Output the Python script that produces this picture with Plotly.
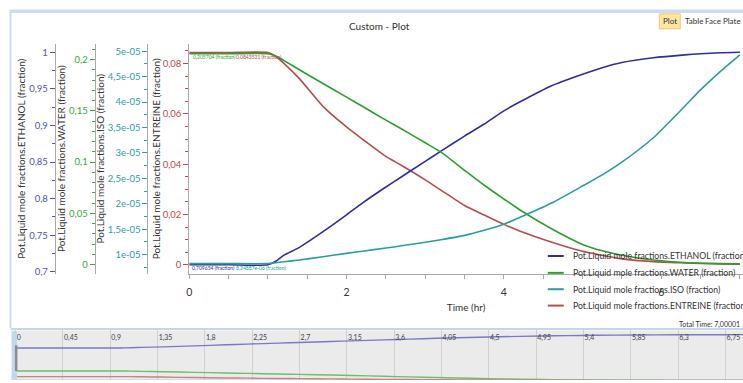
import plotly.graph_objects as go

W, H = 743, 383


def px(x):
    return x / W


def py(y):
    return 1 - y / H


# ---------------- data ----------------
time_hr = [0, 0.5, 1.0, 1.1, 1.2, 1.4, 1.7, 2.0, 2.2, 2.5, 2.7, 3.0, 3.2, 3.5, 3.75,
           4.0, 4.2, 4.6, 5.0, 5.25, 5.5, 5.9, 6.3, 6.5, 6.75, 7.00001]
ethanol = [0.709654, 0.709654, 0.709654, 0.7145, 0.7225, 0.7335, 0.755, 0.778, 0.794,
           0.816, 0.830, 0.851, 0.865, 0.8855, 0.902, 0.920, 0.932, 0.954, 0.970,
           0.979, 0.986, 0.9925, 0.9965, 0.998, 0.9993, 1.0]
water = [0.205704, 0.205704, 0.205704, 0.2035, 0.1992, 0.190, 0.1766, 0.1633, 0.1544,
         0.1409, 0.1323, 0.1188, 0.1097, 0.0920, 0.0774, 0.0640, 0.0535, 0.0352,
         0.0197, 0.0135, 0.0092, 0.0045, 0.0020, 0.0013, 0.0007, 0.0004]
iso = [8.24887e-06, 8.24887e-06, 8.24887e-06, 8.42e-06, 8.6e-06, 8.95e-06, 9.6e-06,
       1.025e-05, 1.068e-05, 1.13e-05, 1.175e-05, 1.245e-05, 1.295e-05, 1.38e-05,
       1.48e-05, 1.60e-05, 1.73e-05, 2.01e-05, 2.35e-05, 2.57e-05, 2.82e-05,
       3.30e-05, 3.92e-05, 4.24e-05, 4.60e-05, 4.93e-05]
entreine = [0.0843531, 0.0843531, 0.0843531, 0.0828, 0.0802, 0.0740, 0.0630, 0.0548,
            0.0500, 0.0431, 0.0395, 0.0338, 0.0297, 0.0236, 0.0198, 0.0161, 0.0135,
            0.0091, 0.0054, 0.0038, 0.0024, 0.0013, 0.0008, 0.0006, 0.0005, 0.0004]

series_names = [
    "Pot.Liquid mole fractions.ETHANOL (fraction)",
    "Pot.Liquid mole fractions.WATER (fraction)",
    "Pot.Liquid mole fractions.ISO (fraction)",
    "Pot.Liquid mole fractions.ENTREINE (fraction)",
]
series_values = [ethanol, water, iso, entreine]

ethanol_ticks = [0.7, 0.75, 0.8, 0.85, 0.9, 0.95, 1.0]
water_ticks = [0, 0.05, 0.1, 0.15, 0.2]
iso_ticks = [1e-05, 1.5e-05, 2e-05, 2.5e-05, 3e-05, 3.5e-05, 4e-05, 4.5e-05, 5e-05]
entreine_ticks = [0, 0.02, 0.04, 0.06, 0.08]
time_ticks = [0, 2, 4, 6]
strip_ticks = [0, 0.45, 0.9, 1.35, 1.8, 2.25, 2.7, 3.15, 3.6, 4.05, 4.5, 4.95,
               5.4, 5.85, 6.3, 6.75]
total_time = 7.00001

# ---------------- styles ----------------
FONT = "Segoe UI, Lato, Noto Sans, sans-serif"
line_colors = ["#2e2e9c", "#2f9e2f", "#2a9d9d", "#b84c4c"]
label_colors = ["#5252b8", "#3aa83a", "#2aa0a0", "#c04848"]
strip_colors = ["#7a7ac4", "#6cbf6c", "#6cc0c0", "#d08080"]
AXLINE = "#a9a9a9"


def fmt(v):
    return ("%g" % v).replace(".", ",")


fig = go.Figure()

yrefs = ["y2", "y3", "y4", "y"]
for name, vals, col, yr in zip(series_names, series_values, line_colors, yrefs):
    fig.add_trace(go.Scatter(x=time_hr, y=vals, mode="lines", name=name,
                             line=dict(color=col, width=1.6, shape="spline", smoothing=0.6),
                             xaxis="x", yaxis=yr, showlegend=False))

for name, vals, col in zip(series_names, series_values, strip_colors):
    fig.add_trace(go.Scatter(x=time_hr, y=vals, mode="lines", name=name,
                             line=dict(color=col, width=1.4, shape="spline", smoothing=0.6),
                             xaxis="x2", yaxis="y5", showlegend=False, hoverinfo="skip"))

dom = [py(276), py(44)]


def yax(ticks, rng, color, title, pos=None, minor_dt=None, minor_t0=0):
    d = dict(domain=dom, range=rng, showgrid=False, zeroline=False,
             showline=True, linecolor=AXLINE, linewidth=1,
             ticks="outside", ticklen=5, tickcolor=color,
             tickmode="array", tickvals=ticks, ticktext=[fmt(t) for t in ticks],
             tickfont=dict(size=9.5, color=color, family=FONT),
             title=dict(text=title, font=dict(size=10, color="#333333", family=FONT), standoff=0),
             side="left", fixedrange=True)
    if minor_dt:
        d["minor"] = dict(ticks="outside", ticklen=3, tickcolor=color,
                          tickmode="linear", tick0=minor_t0, dtick=minor_dt, showgrid=False)
    if pos is not None:
        d.update(anchor="free", overlaying="y", position=pos)
    else:
        d.update(anchor="x")
    return d


layout = dict(
    width=W, height=H,
    margin=dict(l=0, r=0, t=0, b=0),
    paper_bgcolor="white", plot_bgcolor="rgba(0,0,0,0)",
    font=dict(family=FONT, size=10, color="#333333"),
    showlegend=False,
    xaxis=dict(domain=[px(187), 1], range=[0, 7.04], anchor="y",
               showline=True, linecolor=AXLINE, showgrid=False, zeroline=False,
               ticks="outside", ticklen=4, tickcolor=AXLINE,
               tickmode="array", tickvals=time_ticks, ticktext=[fmt(t) for t in time_ticks],
               tickfont=dict(size=10.5, color="#333333"), ticklabelstandoff=5,
               minor=dict(ticks="outside", ticklen=4, tickcolor=AXLINE,
                          tickmode="linear", tick0=0, dtick=0.5),
               title=dict(text="Time (hr)", font=dict(size=10, color="#333333"), standoff=6),
               fixedrange=True),
    yaxis=yax(entreine_ticks, [-0.00355, 0.0879], label_colors[3], series_names[3],
              minor_dt=0.005),
    yaxis2=yax(ethanol_ticks, [0.6973, 1.0118], label_colors[0], series_names[0],
               pos=px(52), minor_dt=0.025, minor_t0=0.7),
    yaxis3=yax(water_ticks, [-0.009, 0.2155], label_colors[1], series_names[1],
               pos=px(92), minor_dt=0.01),
    yaxis4=yax(iso_ticks, [6.23e-06, 5.15e-05], label_colors[2], series_names[2],
               pos=px(145), minor_dt=2.5e-06),
    xaxis2=dict(domain=[px(8), 1], range=[-0.0445, 6.916], anchor="y5", side="top",
                showgrid=True, gridcolor="#d0d0d0", gridwidth=1, zeroline=False,
                showline=True, linecolor="#c6d6e6", linewidth=2, ticks="",
                tickmode="array", tickvals=strip_ticks, ticktext=[fmt(t) for t in strip_ticks],
                ticklabelposition="inside right",
                tickfont=dict(size=7, color="#444444"), fixedrange=True),
    yaxis5=dict(domain=[0, py(333)], range=[0.01, 1.093], anchor="x2", visible=False,
                fixedrange=True),
)
fig.update_layout(**layout)

shapes = []
# strip background
shapes.append(dict(type="rect", xref="paper", yref="paper", x0=px(8), x1=1, y0=0, y1=py(333),
                   fillcolor="#ebebeb", line=dict(width=0), layer="below"))
# strip handle
shapes.append(dict(type="rect", xref="paper", yref="paper", x0=px(9), x1=px(14), y0=0, y1=py(334),
                   fillcolor="#bcd9ee", line=dict(width=0), layer="above"))
shapes.append(dict(type="rect", xref="paper", yref="paper", x0=px(12), x1=px(14.5), y0=py(374), y1=py(348),
                   fillcolor="#8c8c8c", line=dict(width=0), layer="above"))
# outer frame
shapes.append(dict(type="rect", xref="paper", yref="paper", x0=px(6.5), x1=1, y0=py(13), y1=py(9.5),
                   fillcolor="#cddcec", line=dict(width=0), layer="below"))
shapes.append(dict(type="line", xref="paper", yref="paper", x0=px(7.5), x1=px(7.5), y0=py(331), y1=py(11),
                   line=dict(color="#cddcec", width=2), layer="below"))
# Plot button
shapes.append(dict(type="rect", xref="paper", yref="paper", x0=px(659), x1=px(680), y0=py(29), y1=py(14),
                   fillcolor="#fde7a2", line=dict(color="#efc56a", width=1), layer="below"))
# manual legend samples
legend_rows = [258, 275, 291.5, 308]
for col, yy in zip(line_colors, legend_rows):
    shapes.append(dict(type="line", xref="paper", yref="paper", x0=px(547), x1=px(563),
                       y0=py(yy), y1=py(yy), line=dict(color=col, width=2)))
fig.update_layout(shapes=shapes)

ann = []


def text(x, y, s, size, color="#333333", xanchor="center"):
    ann.append(dict(xref="paper", yref="paper", x=px(x), y=py(y), text=s, showarrow=False,
                    xanchor=xanchor, yanchor="middle", font=dict(size=size, color=color, family=FONT)))


text(378, 26, "Custom - Plot", 10)
text(670, 21.5, "Plot", 8)
text(694, 21.5, "Table", 8)
text(723, 21.5, "Face Plate", 8)
for name, yy in zip(series_names, legend_rows):
    text(570, yy, name, 8.7, xanchor="left")
text(742, 327, "Total Time: " + fmt(total_time), 7, xanchor="right")
# cursor readouts at t = 0
text(189, 57, fmt(water[0]) + " (fraction)", 5, line_colors[1], "left")
text(232, 57, fmt(entreine[0]) + " (fraction)", 5, line_colors[3], "left")
text(188, 270.5, fmt(ethanol[0]) + " (fraction)", 5, line_colors[0], "left")
text(232, 270.5, fmt(iso[0]) + " (fraction)", 5, line_colors[2], "left")
fig.update_layout(annotations=ann)

fig.write_html(
    "out.html",
    config=dict(displayModeBar=False),
    post_script="document.body.style.margin='0';document.body.style.padding='0';"
                "document.body.style.overflow='hidden';",
)
